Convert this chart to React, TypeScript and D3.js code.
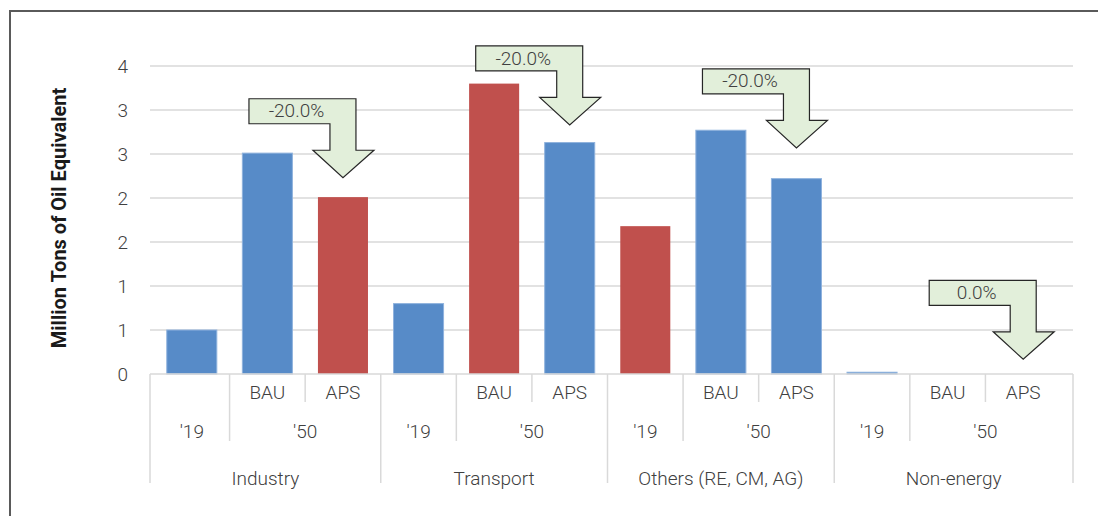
import React from "react";
import * as d3 from "d3";

const categories = ["Industry", "Transport", "Others (RE, CM, AG)", "Non-energy"];
const periodLabels = ["'19", "'50"];
const scenarioLabels = ["", "BAU", "APS"];
const industryValues = [0.5, 2.51, 2.01];
const transportValues = [0.8, 3.3, 2.63];
const othersValues = [1.68, 2.77, 2.22];
const nonEnergyValues = [0.02, 0, 0];
const industryColors = ["blue", "blue", "red"];
const transportColors = ["blue", "red", "blue"];
const othersColors = ["red", "blue", "blue"];
const nonEnergyColors = ["blue", "blue", "blue"];
const yTicks = [0, 0.5, 1, 1.5, 2, 2.5, 3, 3.5];
const annotationLabels = ["-20.0%", "-20.0%", "-20.0%", "0.0%"];
const annotationTipValues = [2.23, 2.83, 2.57, 0.167];

const W = 1098;
const H = 516;
const FONT = "Roboto, 'Open Sans', sans-serif";
const TEXT = "#404040";
const GRID = "#d9d9d9";
const FS = 19;
const COLORS: Record<string, string> = { blue: "#578bc8", red: "#c0504d" };

export default function App() {
  const valueGroups = [industryValues, transportValues, othersValues, nonEnergyValues];
  const colorGroups = [industryColors, transportColors, othersColors, nonEnergyColors];
  const bars = categories.flatMap((c, ci) =>
    scenarioLabels.map((s, si) => ({
      key: `${ci}-${si}`,
      ci,
      si,
      value: valueGroups[ci][si],
      color: COLORS[colorGroups[ci][si]],
    }))
  );

  const axisLeft = 150;
  const axisRight = 1073;
  const x = d3
    .scaleBand<string>()
    .domain(bars.map((b) => b.key))
    .range([154, 1061])
    .paddingInner(0.338)
    .paddingOuter(0.169);
  const y = d3.scaleLinear().domain([0, 3.5]).range([374, 66]);
  const y0 = y(0);

  const boundary = (i: number) => {
    if (i === 0) return axisLeft;
    if (i === bars.length) return axisRight;
    return (x(bars[i - 1].key)! + x.bandwidth() + x(bars[i].key)!) / 2;
  };
  const center = (i: number) => x(bars[i].key)! + x.bandwidth() / 2;

  const seps: { x: number; y2: number }[] = [];
  for (let i = 0; i <= bars.length; i++) {
    const pos = i % 3;
    const y2 = pos === 0 ? 483 : pos === 1 ? 441 : 402;
    seps.push({ x: boundary(i), y2 });
  }

  const arrows = categories.map((c, ci) => {
    const apsIndex = ci * 3 + 2;
    const tx = center(apsIndex);
    const ty = y(annotationTipValues[ci]);
    const pts: [number, number][] = [
      [tx - 94, ty - 79],
      [tx + 13, ty - 79],
      [tx + 13, ty - 27.5],
      [tx + 31, ty - 27.5],
      [tx, ty],
      [tx - 30, ty - 27.5],
      [tx - 13, ty - 27.5],
      [tx - 13, ty - 54],
      [tx - 94, ty - 54],
    ];
    return { ci, pts, label: annotationLabels[ci], lx: tx - 94 + 47.5, ly: ty - 67 };
  });

  const fmt = (t: number) => String(Math.floor(t + 0.5));

  return (
    <svg width={W} height={H} style={{ position: "absolute", left: 0, top: 0 }} fontFamily={FONT}>
      <rect x={0} y={0} width={W} height={H} fill="#fff" />
      <rect x={10} y={11} width={W + 20} height={H + 20} fill="none" stroke="#5a5a5a" strokeWidth={2} />
      {yTicks.map((t) => (
        <g key={t}>
          {t > 0 && <line x1={axisLeft} x2={axisRight} y1={y(t)} y2={y(t)} stroke={GRID} strokeWidth={1.3} />}
          <text x={128} y={y(t)} dy="0.35em" textAnchor="end" fontSize={FS} fontWeight={300} fill={TEXT}>
            {fmt(t)}
          </text>
        </g>
      ))}
      <text
        transform={`translate(59,218) rotate(-90)`}
        textAnchor="middle"
        dy="0.35em"
        fontSize={20}
        fontWeight="bold"
        fill="#1a1a1a"
      >
        Million Tons of Oil Equivalent
      </text>
      {bars.map((b) => (
        <rect
          key={b.key}
          x={x(b.key)}
          y={y(b.value)}
          width={x.bandwidth()}
          height={Math.max(0, y0 - y(b.value))}
          fill={b.color}
          stroke={b.color === COLORS.blue ? "#8fb2dd" : "none"}
          strokeWidth={1}
        />
      ))}
      <line x1={axisLeft} x2={axisRight} y1={y0} y2={y0} stroke={GRID} strokeWidth={1.5} />
      {seps.map((s, i) => (
        <line key={i} x1={s.x} x2={s.x} y1={y0} y2={s.y2} stroke={GRID} strokeWidth={1.5} />
      ))}
      {bars.map((b, i) =>
        b.si > 0 ? (
          <text key={"s" + b.key} x={center(i)} y={399} textAnchor="middle" fontSize={FS} fontWeight={300} fill={TEXT}>
            {scenarioLabels[b.si]}
          </text>
        ) : null
      )}
      {categories.map((c, ci) => (
        <g key={c}>
          <text x={center(ci * 3)} y={438} textAnchor="middle" fontSize={FS} fontWeight={300} fill={TEXT}>
            {periodLabels[0]}
          </text>
          <text x={boundary(ci * 3 + 2)} y={438} textAnchor="middle" fontSize={FS} fontWeight={300} fill={TEXT}>
            {periodLabels[1]}
          </text>
          <text
            x={(boundary(ci * 3) + boundary(ci * 3 + 3)) / 2}
            y={485}
            textAnchor="middle"
            fontSize={FS}
            fontWeight={300}
            fill={TEXT}
          >
            {c}
          </text>
        </g>
      ))}
      {arrows.map((a) => (
        <g key={"a" + a.ci}>
          <polygon
            points={a.pts.map((p) => p.join(",")).join(" ")}
            fill="#e2efda"
            stroke="#262626"
            strokeWidth={1.2}
            strokeLinejoin="miter"
          />
          <text x={a.lx} y={a.ly} dy="0.35em" textAnchor="middle" fontSize={FS} fontWeight={300} fill={TEXT}>
            {a.label}
          </text>
        </g>
      ))}
    </svg>
  );
}
